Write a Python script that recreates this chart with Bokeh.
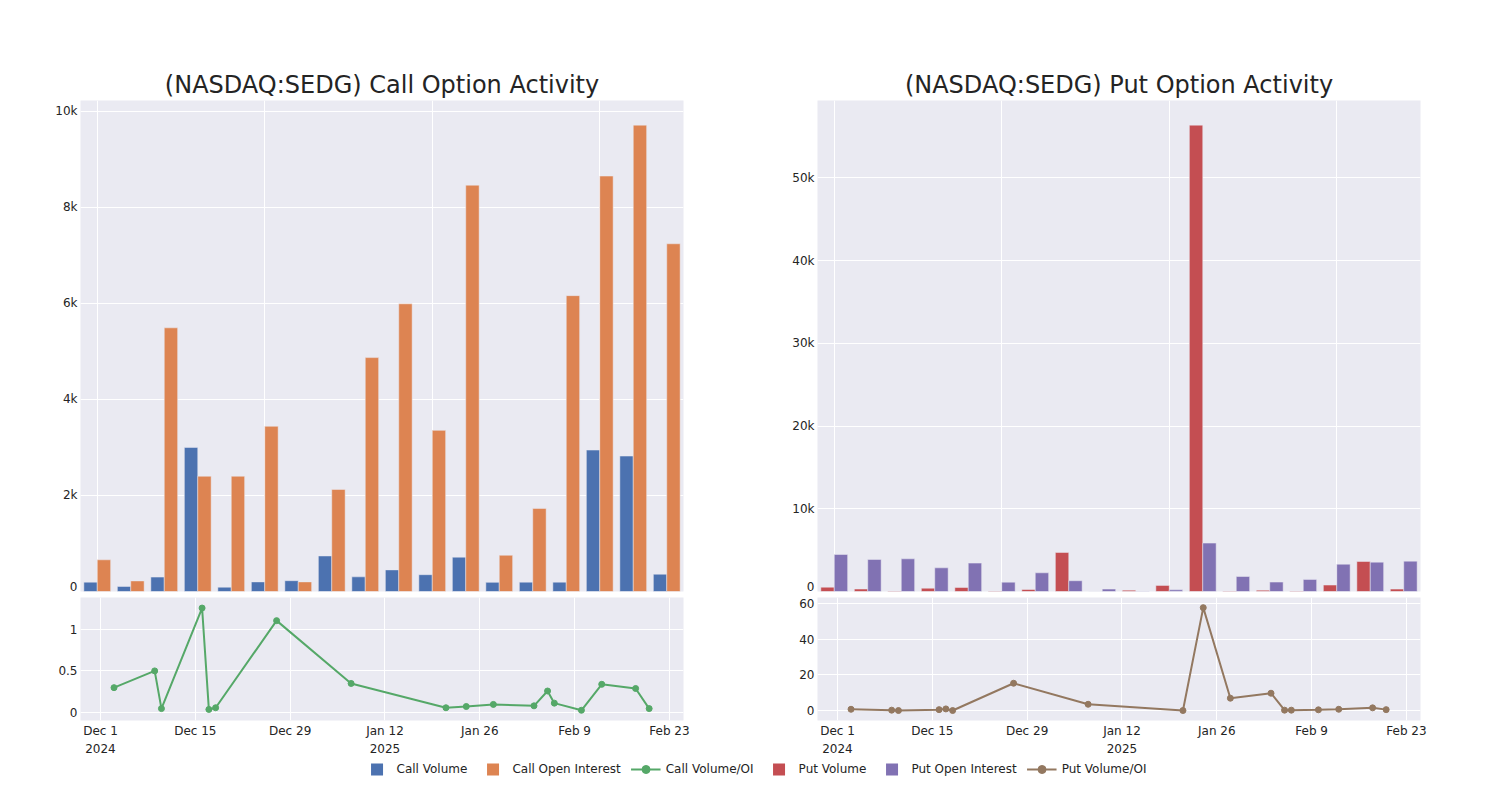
import pandas as pd
from bokeh.plotting import figure
from bokeh.models import Range1d, FixedTicker, ColumnDataSource, Legend, LegendItem
from bokeh.layouts import column, row
from bokeh.transform import dodge
from bokeh.embed import file_html
from bokeh.resources import INLINE

# ---------------- data ----------------
dates = ["2024-12-03", "2024-12-09", "2024-12-10", "2024-12-16", "2024-12-17", "2024-12-18",
         "2024-12-27", "2025-01-07", "2025-01-21", "2025-01-24", "2025-01-28", "2025-02-03",
         "2025-02-05", "2025-02-06", "2025-02-10", "2025-02-13", "2025-02-18", "2025-02-20"]

call_volume = [195, 105, 300, 3000, 90, 200, 225, 740, 305, 450, 350, 715, 190, 195, 195, 2945, 2820, 360]
call_oi = [660, 220, 5490, 2400, 2400, 3440, 200, 2125, 4870, 5990, 3355, 8460, 755, 1730, 6160, 8650, 9710, 7240]
call_ratio = [0.30, 0.50, 0.05, 1.25, 0.04, 0.06, 1.10, 0.35, 0.06, 0.075, 0.10, 0.083, 0.26, 0.115, 0.03, 0.34, 0.29, 0.05]

put_volume = [520, 300, 60, 400, 480, 50, 240, 4720, 0, 160, 740, 56370, 50, 160, 70, 780, 3630, 290]
put_oi = [4475, 3870, 3950, 2860, 3430, 1130, 2260, 1300, 290, 40, 200, 5850, 1815, 1140, 1460, 3300, 3550, 3670]
put_ratio = [0.7, 0.2, 0.0, 0.5, 0.9, 0.0, 15.3, 3.5, 0.0, 57.7, 6.9, 9.7, 0.2, 0.2, 0.4, 0.7, 1.5, 0.5]

tick_dates = ["2024-12-01", "2024-12-15", "2024-12-29", "2025-01-12", "2025-01-26", "2025-02-09", "2025-02-23"]
tick_labels = ["Dec 1\n2024", "Dec 15", "Dec 29", "Jan 12\n2025", "Jan 26", "Feb 9", "Feb 23"]

call_y_ticks = [0, 2000, 4000, 6000, 8000, 10000]
call_y_labels = ["0", "2k", "4k", "6k", "8k", "10k"]
put_y_ticks = [0, 10000, 20000, 30000, 40000, 50000]
put_y_labels = ["0", "10k", "20k", "30k", "40k", "50k"]
call_ratio_ticks = [0, 0.5, 1]
call_ratio_labels = ["0", "0.5", "1"]
put_ratio_ticks = [0, 20, 40, 60]
put_ratio_labels = ["0", "20", "40", "60"]

titles = ["(NASDAQ:SEDG) Call Option Activity", "(NASDAQ:SEDG) Put Option Activity"]
series_names = ["Call Volume", "Call Open Interest", "Call Volume/OI",
                "Put Volume", "Put Open Interest", "Put Volume/OI"]

# ---------------- style ----------------
FONT = "DejaVu Sans"
TXT = "#242424"
BG = "#EAEAF2"
BLUE, ORANGE, GREEN = "#4C72B0", "#DD8452", "#55A868"
RED, PURPLE, BROWN = "#C44E52", "#8172B3", "#937860"

src = ColumnDataSource(dict(
    idx=list(range(len(dates))),
    date=pd.to_datetime(dates),
    call_volume=call_volume, call_oi=call_oi, call_ratio=call_ratio,
    put_volume=put_volume, put_oi=put_oi, put_ratio=put_ratio,
))

tick_ms = [int(pd.Timestamp(d).value // 10**6) for d in tick_dates]
x_start = pd.Timestamp("2024-12-01") - pd.Timedelta(days=2.95)
x_end = pd.Timestamp("2025-02-23") + pd.Timedelta(days=2.07)


def style(p):
    p.background_fill_color = BG
    p.border_fill_color = "white"
    p.outline_line_color = None
    for ax in p.axis:
        ax.axis_line_color = None
        ax.major_tick_line_color = None
        ax.minor_tick_line_color = None
        ax.major_tick_out = 0
        ax.major_tick_in = 0
        ax.minor_tick_out = 0
        ax.major_label_text_font = FONT
        ax.major_label_text_font_size = "12px"
        ax.major_label_text_color = TXT
        ax.major_label_standoff = 3
    p.grid.grid_line_color = "white"
    p.grid.grid_line_width = 1


def bar_fig(title, ymax, yticks, ylabels, vol_key, oi_key, c1, c2, left, right):
    p = figure(frame_width=603, frame_height=491,
               x_range=Range1d(-0.5, len(dates) - 0.5), y_range=Range1d(0, ymax),
               x_axis_location=None, toolbar_location=None, output_backend="svg",
               min_border_left=left, min_border_right=right,
               min_border_top=100, min_border_bottom=2, title=title)
    p.title.text_font = FONT
    p.title.text_font_size = "24px"
    p.title.text_font_style = "normal"
    p.title.text_color = TXT
    p.title.align = "center"
    p.title.standoff = 4
    p.vbar(x=dodge("idx", -0.2), top=vol_key, width=0.4, source=src,
           fill_color=c1, line_color=BG, line_width=0.5)
    p.vbar(x=dodge("idx", 0.2), top=oi_key, width=0.4, source=src,
           fill_color=c2, line_color=BG, line_width=0.5)
    style(p)
    p.yaxis.ticker = FixedTicker(ticks=yticks)
    p.yaxis.major_label_overrides = dict(zip(yticks, ylabels))
    p.ygrid.ticker = FixedTicker(ticks=yticks)
    p.xgrid.ticker = FixedTicker(ticks=[0, 5, 10, 15])
    p.xgrid.grid_line_color = "white"
    return p


def line_fig(key, color, yr, yticks, ylabels, left, right):
    p = figure(frame_width=603, frame_height=123, x_axis_type="datetime",
               x_range=Range1d(x_start, x_end), y_range=Range1d(*yr),
               toolbar_location=None, output_backend="svg",
               min_border_left=left, min_border_right=right,
               min_border_top=4, min_border_bottom=36)
    p.line(x="date", y=key, source=src, line_color=color, line_width=2)
    p.scatter(x="date", y=key, source=src, size=6, fill_color=color, line_color=color)
    style(p)
    p.xaxis.ticker = FixedTicker(ticks=tick_ms)
    p.xaxis.major_label_overrides = dict(zip(tick_ms, tick_labels))
    p.xaxis.major_label_text_line_height = 1.3
    p.yaxis.ticker = FixedTicker(ticks=yticks)
    p.yaxis.major_label_overrides = dict(zip(yticks, ylabels))
    return p


tl = bar_fig(titles[0], 10223, call_y_ticks, call_y_labels, "call_volume", "call_oi", BLUE, ORANGE, 80, 67)
tr = bar_fig(titles[1], 59350, put_y_ticks, put_y_labels, "put_volume", "put_oi", RED, PURPLE, 67, 80)
bl = line_fig("call_ratio", GREEN, (-0.092, 1.376), call_ratio_ticks, call_ratio_labels, 80, 67)
br = line_fig("put_ratio", BROWN, (-5.6, 63.4), put_ratio_ticks, put_ratio_labels, 67, 80)

# ---------------- legend ----------------
lg = figure(width=1500, height=22, x_range=Range1d(0, 1), y_range=Range1d(0, 1),
            x_axis_location=None, y_axis_location=None, toolbar_location=None,
            output_backend="svg", min_border=0, min_border_left=8)
lg.outline_line_color = None
lg.grid.visible = False
lg.background_fill_color = "white"
lg.border_fill_color = "white"

# placeholder renderers lie outside the visible range: they only feed the legend
off_x, off_y = [-10, -9], [-10, -10]
items = []
for name, col, kind in zip(series_names,
                           [BLUE, ORANGE, GREEN, RED, PURPLE, BROWN],
                           ["bar", "bar", "line", "bar", "bar", "line"]):
    if kind == "bar":
        r = lg.scatter(x=off_x[:1], y=off_y[:1], marker="square", size=12,
                       fill_color=col, line_color=col, line_width=4, line_join="miter")
        items.append(LegendItem(label=name, renderers=[r]))
    else:
        r1 = lg.line(x=off_x, y=off_y, line_color=col, line_width=2)
        r2 = lg.scatter(x=off_x[:1], y=off_y[:1], size=6, fill_color=col, line_color=col)
        items.append(LegendItem(label=name, renderers=[r1, r2]))

legend = Legend(items=items, orientation="horizontal", location="center",
                glyph_width=30, glyph_height=20, label_standoff=5, spacing=10,
                padding=0, margin=0, border_line_color=None, background_fill_alpha=0,
                label_text_font=FONT, label_text_font_size="12px", label_text_color=TXT)
lg.add_layout(legend)

layout = column(row(tl, tr), row(bl, br), lg)

open("out.html", "w").write(file_html(layout, INLINE))
